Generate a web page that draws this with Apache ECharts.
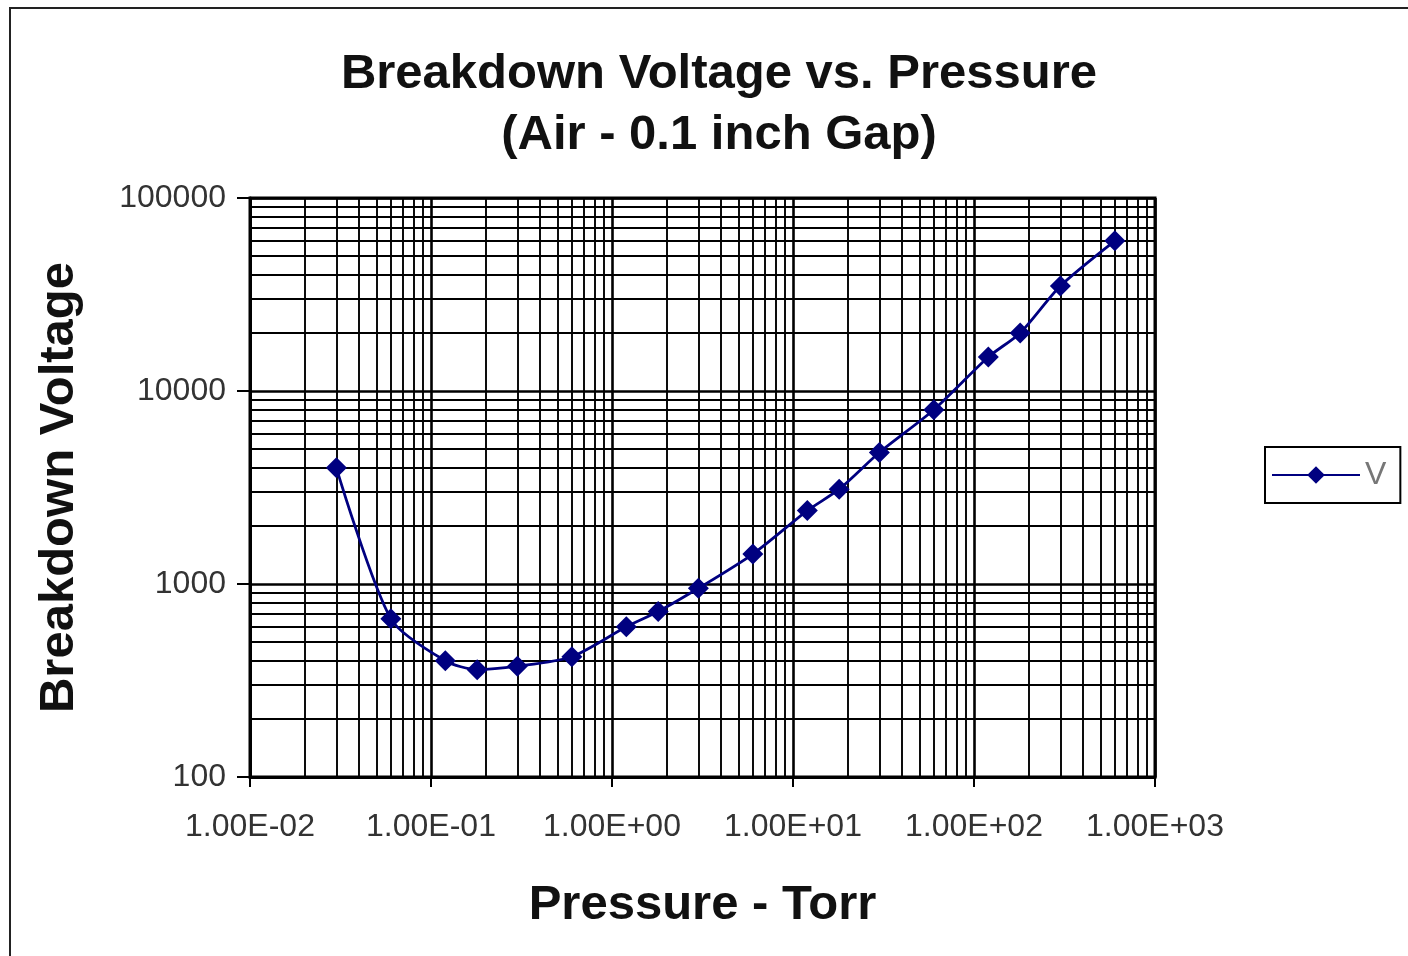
<!DOCTYPE html>
<html>
<head>
<meta charset="utf-8">
<script src="https://cdn.jsdelivr.net/npm/echarts@6/dist/echarts.min.js"></script>
<style>
html,body{margin:0;padding:0;background:#fff;}
#chart{width:1408px;height:956px;}
</style>
</head>
<body>
<div id="chart"></div>
<script>
// Data
const pressure = [0.03, 0.06, 0.12, 0.18, 0.30, 0.60, 1.2, 1.8, 3, 6, 12, 18, 30, 60, 120, 180, 300, 600];
const voltage  = [4000, 660, 400, 360, 375, 420, 600, 720, 950, 1430, 2400, 3100, 4800, 8000, 15000, 20000, 35000, 60000];
const seriesName = 'V';
const titleLines = ['Breakdown Voltage vs. Pressure', '(Air - 0.1 inch Gap)'];
const xName = 'Pressure - Torr';
const yName = 'Breakdown Voltage';
const xRange = [0.01, 1000];
const yRange = [100, 100000];

function minorValues(lo, hi) {
  const out = [];
  for (let d = lo; d < hi; d *= 10) {
    for (let k = 2; k <= 9; k++) out.push(+(d * k).toPrecision(6));
  }
  return out;
}
function sciLabel(v) {
  const e = Math.round(Math.log10(v));
  const m = v / Math.pow(10, e);
  const sign = e < 0 ? '-' : '+';
  const ae = Math.abs(e);
  return m.toFixed(2) + 'E' + sign + (ae < 10 ? '0' + ae : ae);
}

const data = pressure.map((p, i) => [p, voltage[i]]);
const minorLine = { color: '#000', width: 1.9, type: 'solid' };

const chart = echarts.init(document.getElementById('chart'), null, { renderer: 'canvas' });
chart.setOption({
  animation: false,
  backgroundColor: '#fff',
  textStyle: { fontFamily: 'Liberation Sans, Arial, sans-serif' },
  title: {
    text: titleLines.join('\n'),
    left: 714, top: 39, textAlign: 'center',
    textStyle: { fontSize: 49, fontWeight: 'bold', color: '#111', lineHeight: 61, fontFamily: 'Liberation Sans, Arial, sans-serif' }
  },
  graphic: [{
    type: 'rect', shape: { x: 10, y: 8, width: 1500, height: 1000 },
    style: { fill: 'none', stroke: '#222', lineWidth: 2 }, silent: true, z: -1
  }],
  legend: {
    data: [seriesName],
    left: 1265, top: 447,
    padding: [12, 14, 12, 6],
    borderColor: '#000', borderWidth: 2,
    itemWidth: 88, itemHeight: 22,
    itemGap: 4,
    textStyle: { fontSize: 32, color: '#777', padding: [0, 0, 0, 0] }
  },
  grid: {
    left: 250, right: 253, top: 198, bottom: 179,
    show: true, borderColor: '#000', borderWidth: 3, backgroundColor: 'transparent'
  },
  xAxis: {
    type: 'log', logBase: 10, min: xRange[0], max: xRange[1],
    name: xName, nameLocation: 'middle', nameGap: 104,
    nameTextStyle: { fontSize: 49, fontWeight: 'bold', color: '#111' },
    axisLine: { show: true, lineStyle: { color: '#000', width: 3 } },
    axisTick: { show: true, length: 10, lineStyle: { color: '#000', width: 2 } },
    axisLabel: { fontSize: 32, color: '#333', margin: 34, formatter: v => sciLabel(v) },
    splitLine: { show: true, lineStyle: { color: '#000', width: 2.6 } },
    minorTick: { show: false }, minorSplitLine: { show: false }
  },
  yAxis: {
    type: 'log', logBase: 10, min: yRange[0], max: yRange[1],
    name: yName, nameLocation: 'middle', nameGap: 166, nameRotate: 90,
    nameTextStyle: { fontSize: 49, fontWeight: 'bold', color: '#111' },
    axisLine: { show: true, lineStyle: { color: '#000', width: 3 } },
    axisTick: { show: true, length: 13, lineStyle: { color: '#000', width: 2 } },
    axisLabel: { fontSize: 32, color: '#333', margin: 24, formatter: v => String(Math.round(v)) },
    splitLine: { show: true, lineStyle: { color: '#000', width: 2.6 } },
    minorTick: { show: false }, minorSplitLine: { show: false }
  },
  series: [
    {
      name: '_grid', type: 'line', data: [], silent: true, z: 1,
      markLine: {
        silent: true, symbol: ['none', 'none'], animation: false,
        label: { show: false }, lineStyle: minorLine,
        emphasis: { disabled: true },
        data: minorValues(xRange[0], xRange[1]).map(v => ({ xAxis: v }))
          .concat(minorValues(yRange[0], yRange[1]).map(v => ({ yAxis: v })))
      }
    },
    {
      name: seriesName, type: 'line', data: data, z: 5,
      smooth: 0.25,
      symbol: 'diamond', symbolSize: 21,
      lineStyle: { color: '#000080', width: 2.8 },
      itemStyle: { color: '#000080' }
    }
  ]
});
</script>
</body>
</html>
